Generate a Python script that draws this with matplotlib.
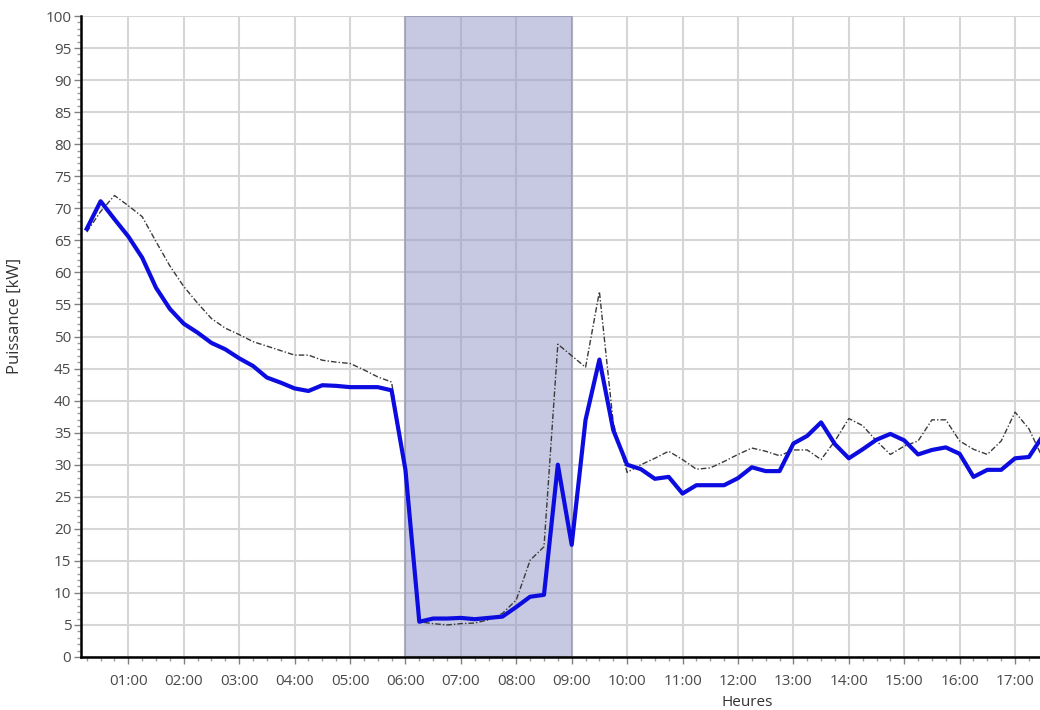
import matplotlib
matplotlib.use("Agg")
import matplotlib.pyplot as plt
from matplotlib.ticker import MultipleLocator, FuncFormatter

plt.rcParams['font.family'] = ['Open Sans', 'DejaVu Sans']

# quarter-hour samples, first one at 00:15
start_h = 0.25
step_h = 0.25

mesure = [66.8, 71.1, 68.3, 65.6, 62.3, 57.6, 54.3, 52.0, 50.6, 49.0, 48.0, 46.6,
          45.4, 43.6, 42.8, 41.9, 41.5, 42.4, 42.3, 42.1, 42.1, 42.1, 41.6, 29.2,
          5.5, 6.0, 6.0, 6.1, 5.9, 6.1, 6.3, 7.8, 9.4, 9.7, 30.0, 17.5,
          37.0, 46.4, 35.4, 30.0, 29.3, 27.8, 28.1, 25.5, 26.8, 26.8, 26.8, 27.9,
          29.6, 29.0, 29.0, 33.3, 34.5, 36.6, 33.2, 31.0, 32.4, 33.9, 34.8, 33.8,
          31.6, 32.3, 32.7, 31.7, 28.1, 29.2, 29.2, 31.0, 31.2, 34.5]

reference = [66.3, 69.5, 72.0, 70.4, 68.7, 64.8, 61.0, 57.8, 55.2, 52.8, 51.3, 50.3,
             49.2, 48.5, 47.8, 47.1, 47.1, 46.3, 46.0, 45.8, 44.8, 43.7, 42.9, 29.0,
             5.5, 5.2, 5.0, 5.2, 5.3, 5.8, 6.8, 8.9, 15.1, 17.2, 48.8, 47.0,
             45.2, 57.0, 36.5, 28.8, 30.0, 31.0, 32.1, 30.8, 29.3, 29.5, 30.5, 31.6,
             32.6, 32.1, 31.4, 32.3, 32.3, 30.8, 33.7, 37.2, 36.1, 33.7, 31.6, 32.9,
             33.7, 37.0, 37.0, 33.7, 32.4, 31.6, 33.7, 38.2, 35.6, 31.0]

heures = [start_h + i * step_h for i in range(len(mesure))]

plage_debut, plage_fin = 6.0, 9.0

fig = plt.figure(figsize=(10.4, 7.1), dpi=100)
ax = fig.add_axes([81 / 1040, 53 / 710, (1040 - 81) / 1040, (657 - 16) / 710])

ax.set_xlim(0.146, 17.45)
ax.set_ylim(0, 100)

ax.grid(True, which="major", color="#d6d6d6", linewidth=1.5, zorder=0)
ax.set_axisbelow(True)

ax.axvspan(plage_debut, plage_fin, facecolor="#9194c6", alpha=0.5,
           edgecolor="#8a8ca8", linewidth=1.5, zorder=1)

ax.plot(heures, reference, color="#3a3a3a", linewidth=1.0,
        dashes=(4, 1.5, 1, 1.5), zorder=2)
ax.plot(heures, mesure, color="#0c0ce0", linewidth=3.0, zorder=3)

ax.xaxis.set_major_locator(MultipleLocator(1))
ax.xaxis.set_minor_locator(MultipleLocator(0.25))
ax.xaxis.set_major_formatter(FuncFormatter(lambda v, p: "%02d:00" % int(round(v))))
ax.yaxis.set_major_locator(MultipleLocator(5))
ax.yaxis.set_minor_locator(MultipleLocator(1))

for s in ["top", "right"]:
    ax.spines[s].set_visible(False)
for s in ["left", "bottom"]:
    ax.spines[s].set_linewidth(1.8)
    ax.spines[s].set_color("black")

ax.tick_params(which="major", length=5, width=1, color="#808080",
               labelsize=11, labelcolor="#4a4a4a", pad=2)
ax.tick_params(which="minor", length=3, width=1, color="#9a9a9a")
ax.tick_params(axis="x", pad=7)

ax.set_ylabel("Puissance [kW]", fontsize=12, color="#333333")
ax.yaxis.set_label_coords(-0.061, 0.532)
ax.set_xlabel("Heures", fontsize=11, color="#333333")
ax.xaxis.set_label_coords(0.695, -0.06)

plt.savefig("out.png", dpi=100)
